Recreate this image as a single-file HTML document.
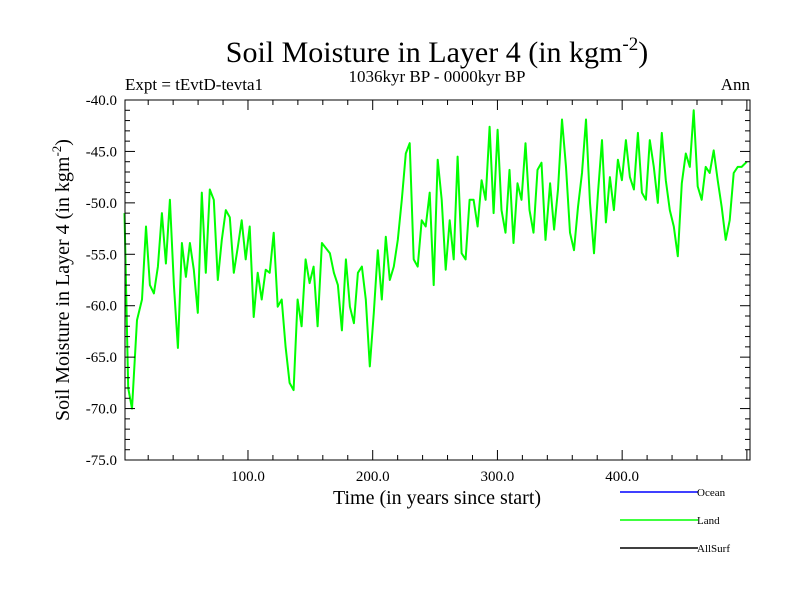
<!DOCTYPE html>
<html><head><meta charset="utf-8"><style>
body{margin:0;background:#fff}
svg{display:block}
text{font-family:"Liberation Serif",serif;fill:#000}
</style></head><body>
<svg id="chart" width="800" height="600">
<text x="437" y="62" font-size="30" text-anchor="middle">Soil Moisture in Layer 4 (in kgm<tspan dy="-12" font-size="19">-2</tspan><tspan dy="12">)</tspan></text>
<text x="125" y="90" font-size="17">Expt = tEvtD-tevta1</text>
<text x="437" y="82" font-size="17" text-anchor="middle">1036kyr BP - 0000kyr BP</text>
<text x="750" y="90" font-size="17" text-anchor="end">Ann</text>
<text transform="translate(69,280) rotate(-90)" font-size="20" text-anchor="middle">Soil Moisture in Layer 4 (in kgm<tspan dy="-8" font-size="13">-2</tspan><tspan dy="8">)</tspan></text>
<text x="437" y="504" font-size="20" text-anchor="middle">Time (in years since start)</text>
<g id="axes"></g>
<g id="legend" font-family="Liberation Sans"></g>
</svg>
<script>
const yTicks=[-40,-45,-50,-55,-60,-65,-70,-75];
const yTickLabels=["-40.0","-45.0","-50.0","-55.0","-60.0","-65.0","-70.0","-75.0"];
const xTicks=[100,200,300,400];
const xTickLabels=["100.0","200.0","300.0","400.0"];
const headYears=[1,4,7,11,15];
const headValues=[-51,-68,-70,-61.4,-59.4];
const segAValues=[-52.3,-58,-58.8,-56.2,-51,-55.9,-49.7,-58,-64.1,-53.9,-57.2,-53.9,-56.5,-60.7,-49,-56.8,-48.7,-49.7,-57.5,-53.6,-50.7,-51.4,-56.8,-54.3,-51.7,-55.5,-52.3,-61.1,-56.8,-59.4,-56.5,-56.8,-52.9,-60.1,-59.4,-64,-67.5,-68.2,-59.4,-62,-55.5,-57.8,-56.2,-62];
const midYear=[159.3];
const midValue=[-53.9];
const segBValues=[-54.9,-56.8,-58,-62.4,-55.5,-60.1,-61.7,-56.8,-56.2,-59.4,-65.9,-60.7,-54.6,-59.4,-53.3,-57.5,-56.2,-53.6,-49.7,-45.2,-44.2,-55.5,-56.2,-51.7,-52.3,-49,-58,-45.8,-49.7,-56.5,-51.7,-55.5,-45.5,-54.9,-55.5,-49.7,-49.7,-52.3,-47.8,-49.7,-42.6,-51,-42.9,-50.7,-52.9,-46.8,-53.9,-48.1,-49.7,-44.2,-50.7,-52.9,-46.8,-46.1,-53.6];
const segCValues=[-48.1,-52.6,-48.7,-41.9,-46.5,-52.9,-54.6,-50.4,-47.1,-41.9,-50,-54.9,-49,-43.9,-51.9,-47.5,-50.7,-45.8,-47.8,-43.9,-47.5,-48.7,-43.2,-49,-49.7,-43.9,-46.5,-50,-43.2,-47.8,-50.7,-52.3,-55.2,-48.1,-45.2,-46.5,-41,-48.4,-49.7,-46.5,-47.1,-44.9,-47.8,-50.4,-53.6,-51.7,-47.1,-46.5,-46.5];
const tailYear=[500];
const tailValue=[-46];

const NS="http://www.w3.org/2000/svg";
const L=125,R=750,T=100,B=460,X0=1.4,X1=502.5,Y0=-75,Y1=-40;
const sx=v=>L+(v-X0)/(X1-X0)*(R-L);
const sy=v=>B-(v-Y0)/(Y1-Y0)*(B-T);
const years=[...headYears],values=[...headValues];
segAValues.forEach((v,i)=>{years.push(18.2+3.2*i);values.push(v);});
years.push(...midYear);values.push(...midValue);
segBValues.forEach((v,i)=>{years.push(165.7+3.2*i);values.push(v);});
segCValues.forEach((v,i)=>{years.push(342.2+3.2*i);values.push(v);});
years.push(...tailYear);values.push(...tailValue);

const ax=document.getElementById('axes');
function mk(tag,attrs,parent){const e=document.createElementNS(NS,tag);for(const k in attrs)e.setAttribute(k,attrs[k]);(parent||ax).appendChild(e);return e;}

const line=mk('polyline',{points:years.map((y,i)=>sx(y).toFixed(1)+','+sy(values[i]).toFixed(1)).join(' '),fill:'none',stroke:'#00ff00','stroke-width':2,'stroke-linejoin':'round'});



const frame=mk('rect',{x:L,y:T,width:R-L,height:B-T,fill:'none',stroke:'#000','stroke-width':1});



for(let v=-75;v<=-40;v++){
  const major=(v%5===0);const len=major?10:5;const y=sy(v);
  mk('line',{x1:L,x2:L+len,y1:y,y2:y,stroke:'#000'});
  mk('line',{x1:R,x2:R-len,y1:y,y2:y,stroke:'#000'});
}
yTicks.forEach((v,i)=>{
  const t=mk('text',{x:117,y:sy(v)+5,'font-size':15,'text-anchor':'end'});
  t.textContent=yTickLabels[i];
  
  
});
for(let v=20;v<=500;v+=20){
  const major=(v%100===0);const len=major?10:5;const x=sx(v);
  mk('line',{x1:x,x2:x,y1:B,y2:B-len,stroke:'#000'});
  mk('line',{x1:x,x2:x,y1:T,y2:T+len,stroke:'#000'});
}
xTicks.forEach((v,i)=>{
  const t=mk('text',{x:sx(v),y:481,'font-size':15,'text-anchor':'middle'});
  t.textContent=xTickLabels[i];
  
  
});

const lg=document.getElementById('legend');
const legendNames=["Ocean","Land","AllSurf"];
const legendColors=["#0000ff","#00ff00","#000000"];
const legendY=[492,520,548];
legendNames.forEach((n,i)=>{
  const g=mk('g',{},lg);
  
  
  mk('line',{x1:620,x2:698,y1:legendY[i],y2:legendY[i],stroke:legendColors[i],'stroke-width':1.5},g);
  const t=mk('text',{x:697,y:legendY[i]+4,'font-size':11,'font-family':'Liberation Sans'},g);
  t.textContent=n;
});
</script>
</body></html>
